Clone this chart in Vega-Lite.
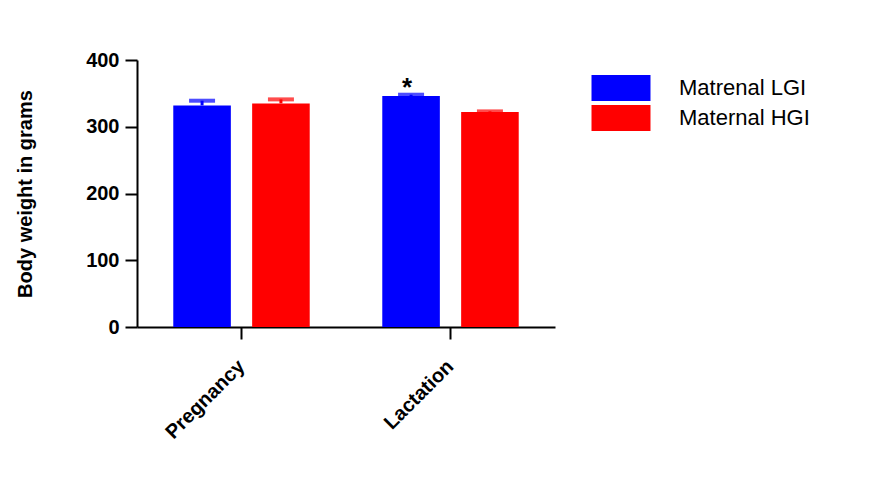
{
  "$schema": "https://vega.github.io/schema/vega-lite/v6.json",
  "width": 418,
  "height": 267,
  "autosize": "none",
  "padding": {"left": 137, "top": 60, "right": 331, "bottom": 158},
  "background": "white",
  "config": {
    "view": {"stroke": null},
    "font": "Liberation Sans",
    "axis": {"grid": false, "domainColor": "black", "tickColor": "black", "domainWidth": 2, "tickWidth": 2, "tickSize": 12, "labelColor": "black", "titleColor": "black", "labelFont": "Liberation Sans", "titleFont": "Liberation Sans", "labelFontWeight": "bold", "titleFontWeight": "bold"}
  },
  "data": {
    "values": [
      {"phase": "Pregnancy", "group": "Matrenal LGI", "mean": 332, "upper": 339, "mark": ""},
      {"phase": "Pregnancy", "group": "Maternal HGI", "mean": 335, "upper": 341, "mark": ""},
      {"phase": "Lactation", "group": "Matrenal LGI", "mean": 346, "upper": 348, "mark": "*"},
      {"phase": "Lactation", "group": "Maternal HGI", "mean": 322, "upper": 323, "mark": ""}
    ]
  },
  "encoding": {
    "x": {
      "field": "phase", "type": "nominal", "sort": ["Pregnancy", "Lactation"],
      "scale": {"paddingInner": 0, "paddingOuter": 0},
      "axis": {"title": null, "labelAngle": -45, "labelAlign": "right", "labelBaseline": "middle", "labelFontSize": 20, "labelPadding": 24, "labelOffset": 0}
    },
    "xOffset": {
      "field": "group", "type": "nominal", "sort": ["Matrenal LGI", "Maternal HGI"],
      "scale": {"paddingInner": 0.27, "paddingOuter": 0.46}
    }
  },
  "layer": [
    {
      "mark": {"type": "bar", "strokeWidth": 0},
      "encoding": {
        "y": {
          "field": "mean", "type": "quantitative",
          "scale": {"domain": [0, 400], "nice": false},
          "axis": {"title": "Body weight in grams", "values": [0, 100, 200, 300, 400], "labelFontSize": 20, "labelPadding": 6, "titleFontSize": 20, "titlePadding": 50}
        },
        "color": {
          "field": "group", "type": "nominal",
          "scale": {"domain": ["Matrenal LGI", "Maternal HGI"], "range": ["#0000ff", "#ff0000"]},
          "legend": {
            "title": null, "orient": "none", "legendX": 469, "legendY": 13,
            "symbolType": "M-2,-0.88H2V0.88H-2Z", "symbolSize": 870, "symbolStrokeWidth": 0, "symbolOpacity": 1,
            "labelFontSize": 22, "labelColor": "black", "labelOffset": 43, "rowPadding": 2, "padding": 0
          }
        }
      }
    },
    {
      "mark": {"type": "rule", "strokeWidth": 3},
      "encoding": {
        "y": {"field": "mean", "type": "quantitative"},
        "y2": {"field": "upper"},
        "color": {"field": "group", "type": "nominal", "legend": null}
      }
    },
    {
      "mark": {"type": "tick", "thickness": 4, "size": 26, "orient": "horizontal"},
      "encoding": {
        "y": {"field": "upper", "type": "quantitative"},
        "color": {"field": "group", "type": "nominal", "legend": null}
      }
    },
    {
      "mark": {"type": "text", "fontSize": 26, "fontWeight": "bold", "dy": 8, "dx": -4, "color": "black"},
      "encoding": {
        "y": {"datum": 370, "type": "quantitative"},
        "text": {"field": "mark"}
      }
    }
  ]
}
